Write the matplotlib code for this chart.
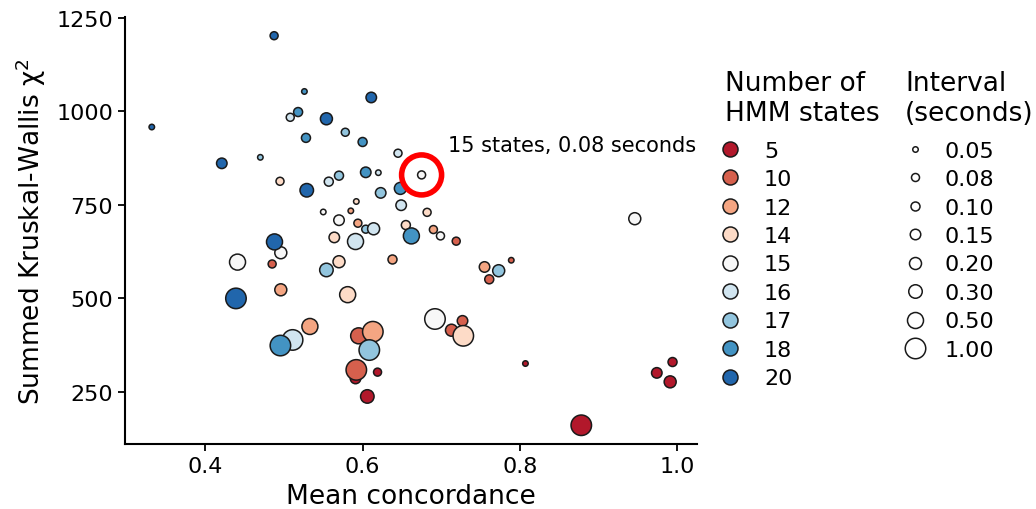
import matplotlib.pyplot as plt
from matplotlib.lines import Line2D

# mean concordance, summed chi2, number of HMM states, interval (s)
concordance = [0.332, 0.421, 0.470, 0.4875, 0.526, 0.518, 0.508, 0.528, 0.495, 0.529,
               0.611, 0.554, 0.578, 0.600, 0.645, 0.675, 0.620, 0.604, 0.570, 0.557,
               0.648, 0.623, 0.649, 0.592, 0.550, 0.585, 0.682, 0.570, 0.594, 0.604,
               0.614, 0.655, 0.690, 0.699, 0.719, 0.662, 0.564, 0.591, 0.638, 0.755,
               0.773, 0.789, 0.570, 0.554, 0.761, 0.496, 0.488, 0.441, 0.485, 0.496,
               0.581, 0.439, 0.533, 0.511, 0.4955, 0.595, 0.613, 0.6085, 0.591, 0.592,
               0.619, 0.606, 0.946, 0.692, 0.727, 0.713, 0.728, 0.807, 0.974, 0.994,
               0.991, 0.878]
chi2 = [958, 861, 877, 1202, 1053, 998, 984, 929, 813, 789,
        1037, 980, 944, 918, 888, 830, 836, 837, 828, 812,
        794, 782, 749, 759, 731, 734, 730, 709, 701, 685,
        686, 696, 684, 667, 653, 667, 663, 652, 604, 584,
        574, 602, 598, 576, 551, 622, 651, 597, 592, 523,
        510, 500, 425, 389, 374, 400, 411, 362, 286, 309,
        303, 238, 713, 445, 440, 415, 400, 326, 301, 330,
        277, 161]
states = [20, 20, 17, 20, 18, 18, 16, 18, 14, 20,
          20, 20, 17, 18, 16, 15, 16, 18, 17, 16,
          18, 17, 16, 14, 15, 12, 14, 15, 12, 17,
          16, 14, 12, 15, 10, 18, 14, 16, 12, 12,
          17, 10, 14, 17, 10, 15, 20, 15, 10, 12,
          14, 20, 12, 16, 18, 10, 12, 17, 5, 10,
          5, 5, 15, 15, 10, 10, 14, 5, 5, 5,
          5, 5]
interval = [0.05, 0.15, 0.05, 0.08, 0.05, 0.10, 0.08, 0.10, 0.08, 0.30,
            0.15, 0.20, 0.08, 0.10, 0.08, 0.08, 0.05, 0.15, 0.10, 0.10,
            0.20, 0.15, 0.15, 0.05, 0.05, 0.05, 0.08, 0.15, 0.08, 0.08,
            0.20, 0.10, 0.08, 0.08, 0.08, 0.50, 0.15, 0.50, 0.10, 0.15,
            0.20, 0.05, 0.20, 0.30, 0.10, 0.20, 0.50, 0.50, 0.08, 0.20,
            0.50, 1.00, 0.50, 1.00, 1.00, 0.50, 1.00, 1.00, 0.15, 1.00,
            0.08, 0.30, 0.20, 1.00, 0.15, 0.20, 1.00, 0.05, 0.15, 0.10,
            0.20, 1.00]

state_levels = [5, 10, 12, 14, 15, 16, 17, 18, 20]
state_colors = ['#b2182b', '#d6604d', '#f4a582', '#fddbc7', '#f7f7f7',
                '#d1e5f0', '#92c5de', '#4393c3', '#2166ac']
interval_levels = [0.05, 0.08, 0.10, 0.15, 0.20, 0.30, 0.50, 1.00]
interval_diam = [5.5, 8, 9, 10.5, 12, 13.5, 16, 20.5]  # px

color_of = dict(zip(state_levels, state_colors))
diam_of = dict(zip(interval_levels, interval_diam))

fig = plt.figure(figsize=(10.36, 5.10), dpi=100)
ax = fig.add_axes([0.1207, 0.1275, 0.552, 0.8372])

cols = [color_of[s] for s in states]
sizes = [(diam_of[i] * 0.72) ** 2 for i in interval]
ax.scatter(concordance, chi2, s=sizes, c=cols, edgecolors='#1a1a1a', linewidths=1.1, zorder=3)

# highlight the chosen model
ax.scatter([0.675], [830], s=(40 * 0.72) ** 2, facecolors='none', edgecolors='#ff0000',
           linewidths=4, zorder=4)
ax.text(0.708, 911, '15 states, 0.08 seconds', fontsize=15, ha='left', va='center')

ax.set_xlim(0.298, 1.025)
ax.set_ylim(111, 1252)
ax.set_xticks([0.4, 0.6, 0.8, 1.0])
ax.set_xticklabels(['0.4', '0.6', '0.8', '1.0'])
ax.set_yticks([250, 500, 750, 1000, 1250])
ax.tick_params(labelsize=16, length=5, width=1.3, colors='black')
for side in ['top', 'right']:
    ax.spines[side].set_visible(False)
for side in ['left', 'bottom']:
    ax.spines[side].set_linewidth(1.5)
ax.set_xlabel('Mean concordance', fontsize=19, labelpad=5)
ax.set_ylabel('Summed Kruskal-Wallis χ$^2$', fontsize=19, labelpad=6)

top = 1 - 71 / 510
h1 = [Line2D([], [], ls='none', marker='o', markersize=15 * 0.72, markerfacecolor=c,
             markeredgecolor='#1a1a1a', markeredgewidth=1.1) for c in state_colors]
leg1 = fig.legend(h1, [str(s) for s in state_levels], title='Number of\nHMM states',
                  loc='upper left', bbox_to_anchor=(725 / 1036, top),
                  frameon=False, fontsize=16, title_fontsize=19, alignment='left',
                  borderpad=0, borderaxespad=0,
                  labelspacing=0.38, handletextpad=1.3, handlelength=0.45)

h2 = [Line2D([], [], ls='none', marker='o', markersize=d * 0.72, markerfacecolor='white',
             markeredgecolor='#1a1a1a', markeredgewidth=1.1) for d in interval_diam]
leg2 = fig.legend(h2, ['%.2f' % v for v in interval_levels], title='Interval\n(seconds)',
                  loc='upper left', bbox_to_anchor=(905 / 1036, top),
                  frameon=False, fontsize=16, title_fontsize=19, alignment='left',
                  borderpad=0, borderaxespad=0,
                  labelspacing=0.38, handletextpad=0.9, handlelength=0.9)

# a bit more room between legend titles and their first entry
for leg in (leg1, leg2):
    leg._legend_box.sep = 10.6

fig.savefig('out.png', dpi=100)
